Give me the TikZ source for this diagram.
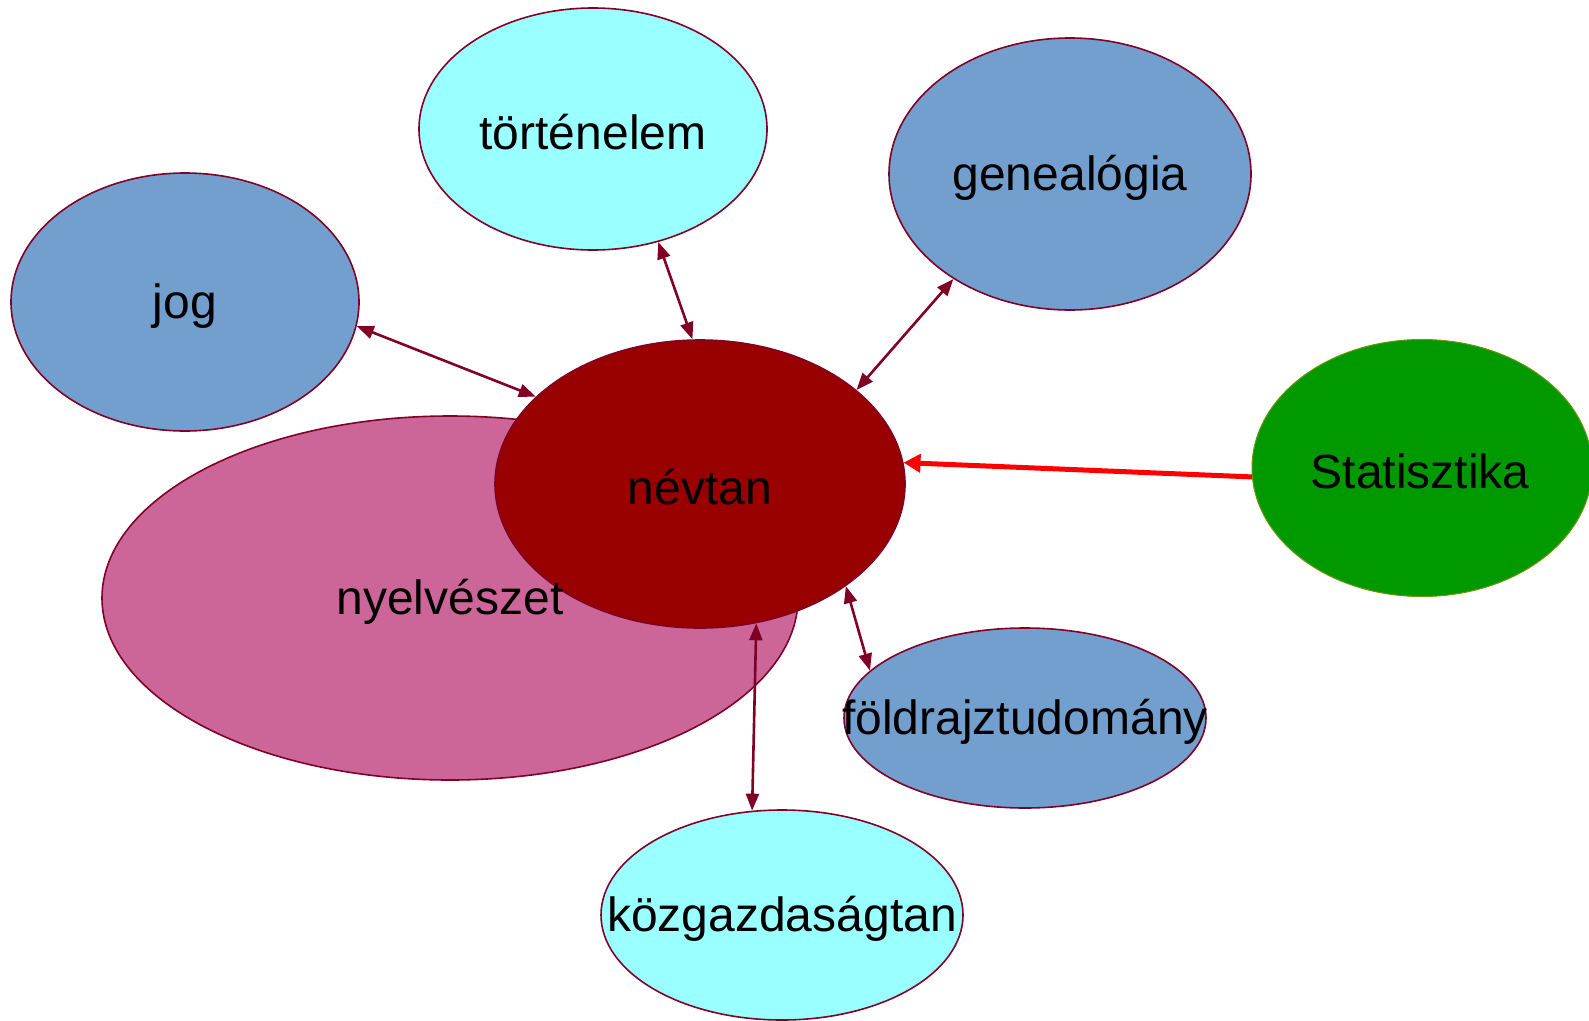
\documentclass[tikz,border=0pt]{standalone}
\usepackage{fontspec}
\setmainfont{Liberation Sans}
\usetikzlibrary{shapes.geometric,arrows.meta}

\definecolor{rim}{RGB}{128,0,38}
\definecolor{cyanfill}{RGB}{153,255,255}
\definecolor{bluefill}{RGB}{115,159,207}
\definecolor{pinkfill}{RGB}{204,102,153}
\definecolor{darkred}{RGB}{153,0,0}
\definecolor{greenfill}{RGB}{0,153,0}
\definecolor{olive}{RGB}{110,150,0}

\tikzset{
  field/.style = {ellipse, draw = rim, line width = 1.6pt, inner sep = 0pt},
  fieldname/.style = {font = \fontsize{48}{56}\selectfont, inner sep = 0pt},
  link/.style = {draw = rim, line width = 2.6pt, {Triangle[length = 17pt, width = 13pt]}-{Triangle[length = 17pt, width = 13pt]}}
}

\begin{document}
\begin{tikzpicture}[x = 1pt, y = -1pt]

\useasboundingbox (0, 0) rectangle (1589, 1020);

\node[field, fill = pinkfill, minimum width = 696pt, minimum height = 364pt] (nyelveszet) at (450, 598) {};

\node[field, fill = darkred, minimum width = 410pt, minimum height = 288pt] (nevtan) at (700, 484) {};

\node[fieldname] (nevtan text) at (700, 487) {névtan};

\node[fieldname] (nyelveszet text) at (450, 602) {nyelvészet};

\node[field, fill = cyanfill, minimum width = 348pt, minimum height = 242pt] (tortenelem) at (593, 129) {};

\node[fieldname] (tortenelem text) at (593, 132) {történelem};

\node[field, fill = bluefill, minimum width = 348pt, minimum height = 258pt] (jog) at (185, 302) {};

\node[fieldname] (jog text) at (185, 306) {jog};

\node[field, fill = bluefill, minimum width = 362pt, minimum height = 272pt] (genealogia) at (1070, 174) {};

\node[fieldname] (genealogia text) at (1070, 178) {genealógia};

\node[field, fill = bluefill, minimum width = 362pt, minimum height = 180pt] (foldrajz) at (1025, 718) {};

\node[fieldname] (foldrajz text) at (1025, 722) {földrajztudomány};

\node[field, fill = cyanfill, minimum width = 362pt, minimum height = 210pt] (kozgazdasag) at (782, 915) {};

\node[fieldname] (kozgazdasag text) at (782, 919) {közgazdaságtan};

\node[field, draw = olive, line width = 1pt, fill = greenfill, minimum width = 340pt, minimum height = 257pt] (statisztika) at (1422, 468) {};

\node[fieldname] (statisztika text) at (1420, 471) {Statisztika};

\draw[link] (jog.-8) -- (nevtan.152);

\draw[link] (tortenelem.-60) -- (nevtan.93);

\draw[link] (nevtan.31) -- (genealogia.222);

\draw[link] (nevtan.-35) -- (foldrajz.163);

\draw[link] (nevtan.-68) -- (kozgazdasag.106);

\draw[red, line width = 5pt, -{Triangle[length = 17pt, width = 18pt]}] (statisztika.183) -- (nevtan.6);

\end{tikzpicture}
\end{document}
